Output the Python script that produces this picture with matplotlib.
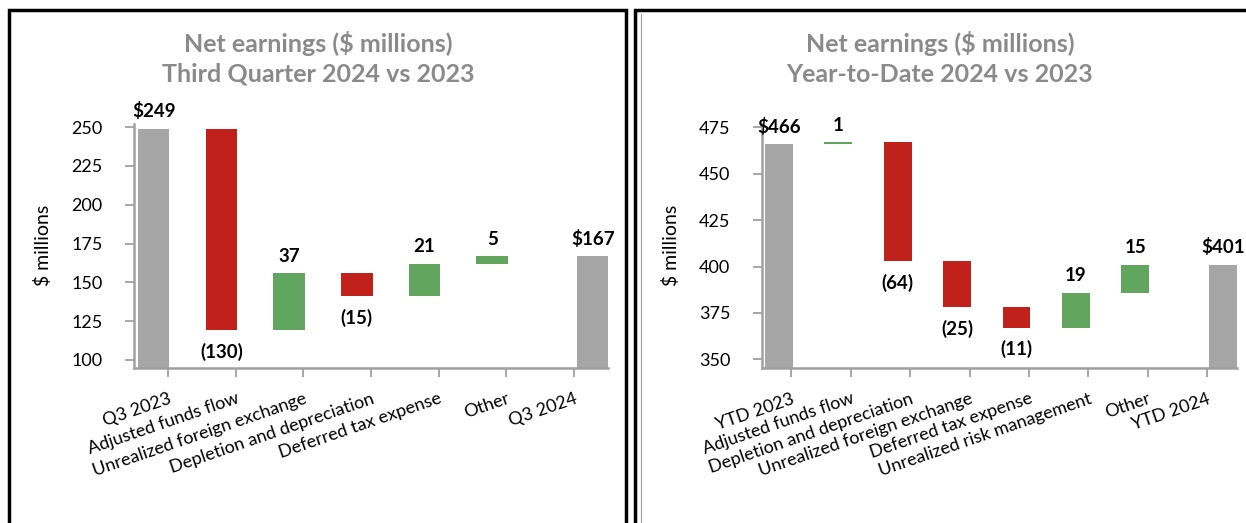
import matplotlib
matplotlib.use("Agg")
import matplotlib.pyplot as plt
from matplotlib.patches import Rectangle
from matplotlib.lines import Line2D
import numpy as np

# ---------------- data ----------------
q_cats = ["Q3 2023", "Adjusted funds flow", "Unrealized foreign exchange",
          "Depletion and depreciation", "Deferred tax expense", "Other", "Q3 2024"]
q_start = 249
q_changes = [-130, 37, -15, 21, 5]
q_end = 167
q_labels = ["$249", "(130)", "37", "(15)", "21", "5", "$167"]
q_yticks = [100, 125, 150, 175, 200, 225, 250]

y_cats = ["YTD 2023", "Adjusted funds flow", "Depletion and depreciation",
          "Unrealized foreign exchange", "Deferred tax expense",
          "Unrealized risk management", "Other", "YTD 2024"]
y_start = 466
y_changes = [1, -64, -25, -11, 19, 15]
y_end = 401
y_labels = ["$466", "1", "(64)", "(25)", "(11)", "19", "15", "$401"]
y_yticks = [350, 375, 400, 425, 450, 475]

titles = [("Net earnings ($ millions)", "Third Quarter 2024 vs 2023"),
          ("Net earnings ($ millions)", "Year-to-Date 2024 vs 2023")]

# ---------------- style ----------------
GRAY = "#A6A6A6"
RED = "#C0211A"
GREEN = "#62A55E"
AXIS = "#A0A0A0"
TITLE = "#8A8A8A"
FONT = "Lato"
plt.rcParams["font.family"] = [FONT, "DejaVu Sans"]

W, H = 1246, 523
fig = plt.figure(figsize=(W / 100, H / 100), dpi=100)


def px_axes(x0, y0, x1, y1):
    return fig.add_axes([x0 / W, 1 - y1 / H, (x1 - x0) / W, (y1 - y0) / H])


def waterfall(ax, cats, start, changes, end, labels, ylim, yticks):
    n = len(cats)
    w = 0.467
    off_l = -0.21
    off_r = 0.275
    xs = [i + off_l for i in range(n - 1)] + [n - 1 + off_r]
    ax.bar(xs[0], start, width=w, color=GRAY, zorder=2)
    tops = [start]
    bots = [0]
    level = start
    for i, c in enumerate(changes):
        lo, hi = (level, level + c) if c >= 0 else (level + c, level)
        h = max(hi - lo, 0.6)
        ax.bar(xs[i + 1], h, width=w, bottom=lo,
               color=GREEN if c >= 0 else RED, zorder=2)
        tops.append(lo + h)
        bots.append(lo)
        level += c
    ax.bar(xs[-1], end, width=w, color=GRAY, zorder=2)
    tops.append(end)
    bots.append(0)

    vals = [1] + list(changes) + [1]
    for i in range(n):
        if vals[i] >= 0:
            ax.annotate(labels[i], (xs[i], tops[i]), xytext=(0, 6),
                        textcoords="offset points", ha="center", va="bottom",
                        fontsize=13.5, fontweight="bold", color="black",
                        annotation_clip=False)
        else:
            ax.annotate(labels[i], (xs[i], bots[i]), xytext=(0, -9),
                        textcoords="offset points", ha="center", va="top",
                        fontsize=13.5, fontweight="bold", color="black",
                        annotation_clip=False)

    ax.set_xlim(-0.5, n - 0.5)
    ax.set_ylim(*ylim)
    ax.set_yticks(yticks)
    ax.set_yticklabels([str(t) for t in yticks])
    ax.set_xticks(np.arange(n))
    ax.set_xticklabels(cats, rotation=19, ha="right", va="top",
                       rotation_mode="anchor")
    for s in ["top", "right"]:
        ax.spines[s].set_visible(False)
    for s in ["left", "bottom"]:
        ax.spines[s].set_color(AXIS)
        ax.spines[s].set_linewidth(1.8)
    ax.tick_params(axis="y", length=6.5, width=1.3, color=AXIS, pad=16,
                   labelsize=13)
    ax.tick_params(axis="x", length=6.5, width=1.3, color=AXIS, pad=10,
                   labelsize=13)
    ax.set_ylabel("$ millions", fontsize=14, labelpad=14)
    ax.set_facecolor("none")


ax1 = px_axes(134, 124, 608, 367.7)
waterfall(ax1, q_cats, q_start, q_changes, q_end, q_labels, (95, 252), q_yticks)
ax2 = px_axes(761.7, 124, 1236.7, 367.7)
waterfall(ax2, y_cats, y_start, y_changes, y_end, y_labels, (345.5, 476.8), y_yticks)

for cx, (l1, l2) in zip([318, 940], titles):
    fig.text(cx / W, 1 - 43 / H, l1, ha="center", va="center", fontsize=18,
             fontweight="bold", color=TITLE)
    fig.text(cx / W, 1 - 74 / H, l2, ha="center", va="center", fontsize=18,
             fontweight="bold", color=TITLE)

# panel borders
fig.add_artist(Rectangle((9 / W, -0.1), (626 - 9) / W, 1.1 - 10 / H,
                         transform=fig.transFigure, fill=False, lw=2.5,
                         ec="black"))
fig.add_artist(Rectangle((635 / W, -0.1), (1260 - 635) / W, 1.1 - 10 / H,
                         transform=fig.transFigure, fill=False, lw=2.5,
                         ec="black", clip_on=False))
fig.add_artist(Line2D([641 / W, 641 / W], [0, 1 - 14 / H],
                      transform=fig.transFigure, lw=0.8, color="#9A9A9A"))

fig.savefig("out.png", dpi=100)
